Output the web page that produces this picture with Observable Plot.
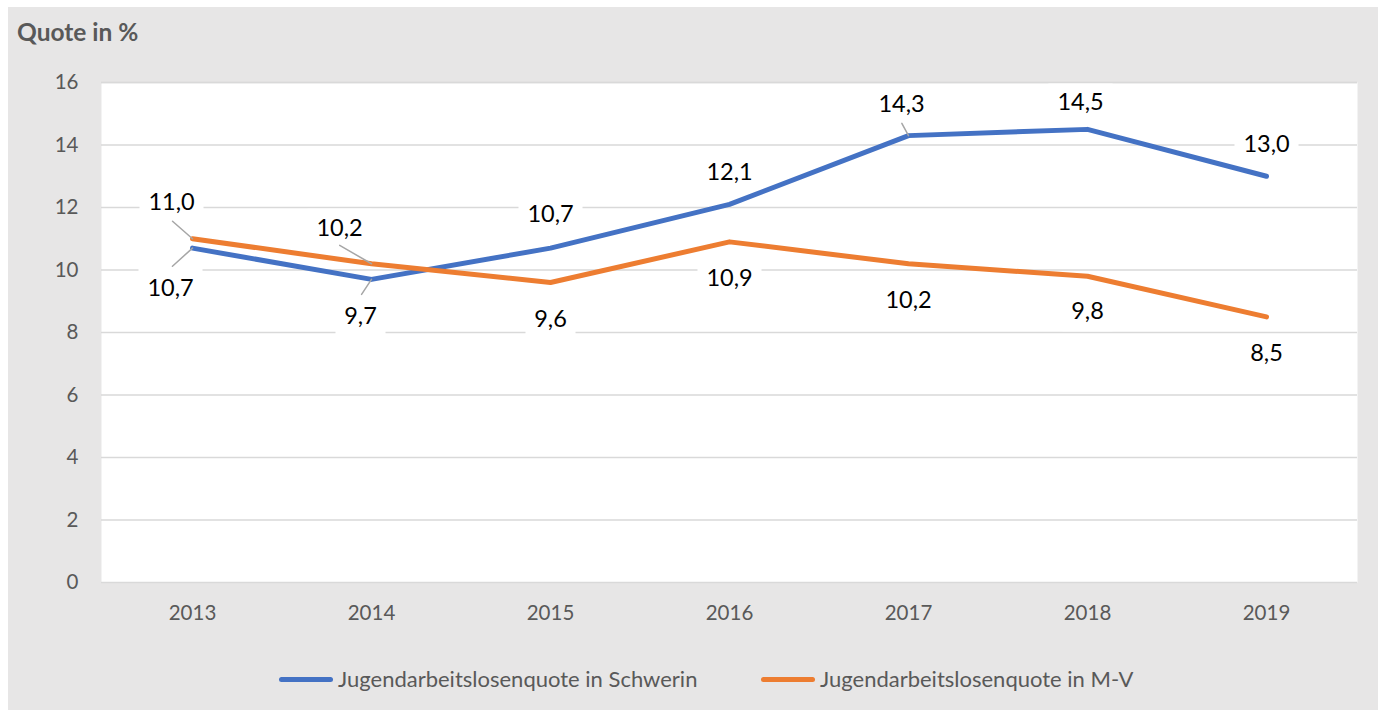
<!DOCTYPE html>
<html>
<head>
<meta charset="utf-8">
<script src="https://cdn.jsdelivr.net/npm/d3@7"></script>
<script src="https://cdn.jsdelivr.net/npm/@observablehq/plot@0.6"></script>
<style>
  html, body { margin: 0; padding: 0; background: #ffffff; }
  #page { position: relative; width: 1381px; height: 712px; overflow: hidden; font-family: Lato, "Open Sans", sans-serif; }
  #bg { position: absolute; left: 8px; top: 7px; width: 1370px; height: 703px; background: #e7e6e6; }
  #title { position: absolute; left: 17px; top: 20px; font-size: 24.5px; line-height: 24px; font-weight: bold; color: #595959; white-space: nowrap; }
  #chart { position: absolute; left: 0; top: 0; }
  .legend-item { position: absolute; top: 668px; display: flex; align-items: center; height: 22px; white-space: nowrap; }
  .legend-item .sw { width: 54px; height: 5px; border-radius: 3px; margin-right: 5px; }
  .legend-item .lb { font-size: 22px; line-height: 22px; color: #595959; }
</style>
</head>
<body>
<div id="page">
  <div id="bg"></div>
  <div id="title">Quote in %</div>
  <div id="chart"></div>
  <div id="legend"></div>
</div>
<script>
// ---- data ----
const years = ["2013", "2014", "2015", "2016", "2017", "2018", "2019"];
const schwerin = [10.7, 9.7, 10.7, 12.1, 14.3, 14.5, 13.0];
const mv = [11.0, 10.2, 9.6, 10.9, 10.2, 9.8, 8.5];
const seriesNames = ["Jugendarbeitslosenquote in Schwerin", "Jugendarbeitslosenquote in M-V"];
const yTicks = [0, 2, 4, 6, 8, 10, 12, 14, 16];
const titleText = "Quote in %";

// ---- styling / layout ----
const colors = ["#4472C4", "#ED7D31"];
const labelOffsets = [
  [[-22, 40], [-11, 37], [0, -34], [0, -32], [-7, -31], [-7, -27], [0, -32]],
  [[-21, -36], [-32, -35], [0, 37], [0, 37], [0, 37], [0, 35], [0, 37]]
];
// leader lines: [seriesIndex, yearIndex, length(px), rotate(deg)]
const leaders = [
  [0, 0, 27, 228], [0, 1, 18, 213.5], [0, 4, 14, 331.6],
  [1, 0, 26.6, 311.3], [1, 1, 36.7, 300]
];

const seriesValues = [schwerin, mv];
const rows = [];
seriesValues.forEach((vals, s) => vals.forEach((v, i) => rows.push({
  series: seriesNames[s], year: years[i], value: v, s, i,
  label: v.toFixed(1).replace(".", ",")
})));

function boxSymbol(w, h) {
  return { draw(ctx) { ctx.rect(-w / 2, -h / 2, w, h); } };
}

const boxMarks = rows.map(r => {
  const [dx, dy] = labelOffsets[r.s][r.i];
  const w = r.label.length >= 4 ? 64 : 50;
  return Plot.dot([r], { x: "year", y: "value", dx, dy, r: 10, symbol: boxSymbol(w, 40), fill: "white", stroke: "none" });
});
const textMarks = rows.map(r => {
  const [dx, dy] = labelOffsets[r.s][r.i];
  return Plot.text([r], { x: "year", y: "value", text: "label", dx, dy, fontSize: 23.5, fill: "#000000", lineAnchor: "middle", textAnchor: "middle" });
});
const leaderMarks = leaders.map(([s, i, len, rot]) => {
  const r = rows.find(d => d.s === s && d.i === i);
  return Plot.vector([r], { x: "year", y: "value", length: len, rotate: rot, anchor: "start", r: 0, stroke: "#a6a6a6", strokeWidth: 1.5 });
});

const chart = Plot.plot({
  width: 1381,
  height: 712,
  marginLeft: 101,
  marginRight: 24,
  marginTop: 82,
  marginBottom: 130,
  style: { background: "transparent", fontFamily: "Lato, 'Open Sans', sans-serif", overflow: "visible" },
  x: { type: "point", domain: years, padding: 0.5, label: null },
  y: { domain: [0, 16], label: null },
  color: { domain: seriesNames, range: colors },
  marks: [
    Plot.frame({ fill: "white", stroke: "none" }),
    Plot.gridY(yTicks, { stroke: "#d9d9d9", strokeOpacity: 1, strokeWidth: 1.5 }),
    ...boxMarks,
    Plot.gridY([yTicks[yTicks.length - 1]], { stroke: "#d9d9d9", strokeOpacity: 1, strokeWidth: 1.5 }),
    Plot.line(rows, { x: "year", y: "value", z: "series", stroke: "series", strokeWidth: 5, strokeLinecap: "round", strokeLinejoin: "round" }),
    ...leaderMarks,
    ...textMarks,
    Plot.axisX({ tickSize: 0, tickPadding: 23, fontSize: 20.5, fill: "#595959", label: null }),
    Plot.axisY({ ticks: yTicks, tickSize: 0, tickPadding: 23, fontSize: 20.5, fill: "#595959", label: null })
  ]
});
document.getElementById("chart").appendChild(chart);
document.getElementById("title").textContent = titleText;

// legend
const legendLefts = [279, 761];
const legend = document.getElementById("legend");
seriesNames.forEach((name, k) => {
  const item = document.createElement("div");
  item.className = "legend-item";
  item.style.left = legendLefts[k] + "px";
  const sw = document.createElement("div");
  sw.className = "sw";
  sw.style.background = colors[k];
  const lb = document.createElement("span");
  lb.className = "lb";
  lb.textContent = name;
  item.appendChild(sw);
  item.appendChild(lb);
  legend.appendChild(item);
});
</script>
</body>
</html>
